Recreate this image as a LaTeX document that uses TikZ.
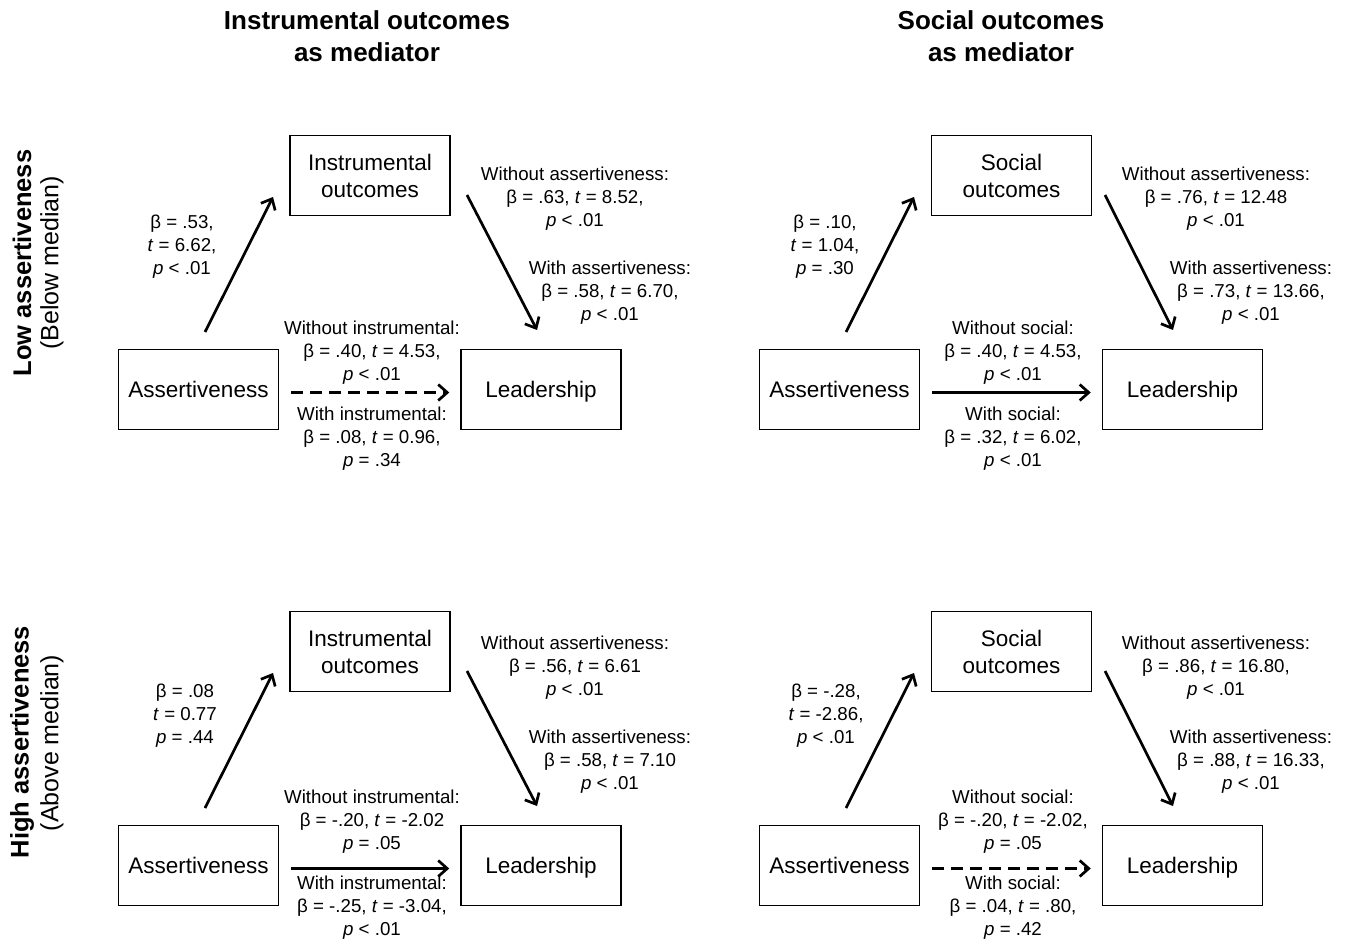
\documentclass[tikz,border=0pt]{standalone}
\usepackage{fontspec}
\setmainfont{Liberation Sans}
\usetikzlibrary{arrows.meta}
\begin{document}
\begin{tikzpicture}[x=1pt,y=-1pt,
  box/.style={draw, line width=1.5pt, minimum width=160pt, minimum height=80pt, inner sep=0pt, align=center, font=\fontsize{22.5}{27}\selectfont},
  single/.style={text height=16pt, text depth=0pt},
  lab/.style={align=center, inner sep=0pt, yshift=-2pt, font=\fontsize{18.7}{23}\selectfont},
  conn/.style={line width=2.7pt, -{Straight Barb[length=9pt,width=16pt]}},
  dashconn/.style={conn, dash pattern=on 12pt off 7pt},
  title/.style={align=center, inner sep=0pt, font=\fontsize{26}{32}\selectfont\bfseries},
  sidebold/.style={rotate=90, inner sep=0pt, font=\fontsize{25.5}{30}\selectfont\bfseries},
  sidereg/.style={rotate=90, inner sep=0pt, font=\fontsize{25}{30}\selectfont}
]
\useasboundingbox (0,0) rectangle (1345,941);

% titles
\node[title] (t1) at (367,36) {Instrumental outcomes\\as mediator};
\node[title] (t2) at (1001,36) {Social outcomes\\as mediator};

% side labels
\node[sidebold] (s1) at (22,263) {Low assertiveness};
\node[sidereg] (s2) at (52,263) {(Below median)};
\node[sidebold] (s3) at (22,742) {High assertiveness};
\node[sidereg] (s4) at (52,743) {(Above median)};

% ---------- top-left ----------
\node[box] (tlM) at (370,175.5) {Instrumental\\outcomes};
\node[box,single] (tlA) at (198.5,389.5) {Assertiveness};
\node[box,single] (tlL) at (541,389.5) {Leadership};
\coordinate (tlAMs) at (205,332); \coordinate (tlAMe) at (273,197);
\coordinate (tlMLs) at (467,195); \coordinate (tlMLe) at (537,330);
\draw[conn] (tlAMs) -- (tlAMe);
\draw[conn] (tlMLs) -- (tlMLe);
\draw[dashconn, shorten <=12pt, shorten >=11pt] ([yshift=-3pt]tlA.east) -- ([yshift=-3pt]tlL.west);
\node[lab] (tl1) at (182,245) {β = .53,\\\textit{t} = 6.62,\\\textit{p} < .01};
\node[lab] (tl2) at (575,197) {Without assertiveness:\\β = .63, \textit{t} = 8.52,\\\textit{p} < .01};
\node[lab] (tl3) at (610,291) {With assertiveness:\\β = .58, \textit{t} = 6.70,\\\textit{p} < .01};
\node[lab] (tl4) at (372,351) {Without instrumental:\\β = .40, \textit{t} = 4.53,\\\textit{p} < .01};
\node[lab] (tl5) at (372,437) {With instrumental:\\β = .08, \textit{t} = 0.96,\\\textit{p} = .34};

% ---------- top-right ----------
\node[box] (trM) at (1011.5,175.5) {Social\\outcomes};
\node[box,single] (trA) at (839.5,389.5) {Assertiveness};
\node[box,single] (trL) at (1182.5,389.5) {Leadership};
\coordinate (trAMs) at (846,332); \coordinate (trAMe) at (914,197);
\coordinate (trMLs) at (1105,195); \coordinate (trMLe) at (1173,330);
\draw[conn] (trAMs) -- (trAMe);
\draw[conn] (trMLs) -- (trMLe);
\draw[conn, shorten <=12pt, shorten >=11pt] ([yshift=-3pt]trA.east) -- ([yshift=-3pt]trL.west);
\node[lab] (tr1) at (825,245) {β = .10,\\\textit{t} = 1.04,\\\textit{p} = .30};
\node[lab] (tr2) at (1216,197) {Without assertiveness:\\β = .76, \textit{t} = 12.48\\\textit{p} < .01};
\node[lab] (tr3) at (1251,291) {With assertiveness:\\β = .73, \textit{t} = 13.66,\\\textit{p} < .01};
\node[lab] (tr4) at (1013,351) {Without social:\\β = .40, \textit{t} = 4.53,\\\textit{p} < .01};
\node[lab] (tr5) at (1013,437) {With social:\\β = .32, \textit{t} = 6.02,\\\textit{p} < .01};

% ---------- bottom-left ----------
\node[box] (blM) at (370,651.5) {Instrumental\\outcomes};
\node[box,single] (blA) at (198.5,865.5) {Assertiveness};
\node[box,single] (blL) at (541,865.5) {Leadership};
\coordinate (blAMs) at (205,808); \coordinate (blAMe) at (273,673);
\coordinate (blMLs) at (467,671); \coordinate (blMLe) at (537,806);
\draw[conn] (blAMs) -- (blAMe);
\draw[conn] (blMLs) -- (blMLe);
\draw[conn, shorten <=12pt, shorten >=11pt] ([yshift=-3pt]blA.east) -- ([yshift=-3pt]blL.west);
\node[lab] (bl1) at (185,714) {β = .08\\\textit{t} = 0.77\\\textit{p} = .44};
\node[lab] (bl2) at (575,666) {Without assertiveness:\\β = .56, \textit{t} = 6.61\\\textit{p} < .01};
\node[lab] (bl3) at (610,760) {With assertiveness:\\β = .58, \textit{t} = 7.10\\\textit{p} < .01};
\node[lab] (bl4) at (372,820) {Without instrumental:\\β = -.20, \textit{t} = -2.02\\\textit{p} = .05};
\node[lab] (bl5) at (372,906) {With instrumental:\\β = -.25, \textit{t} = -3.04,\\\textit{p} < .01};

% ---------- bottom-right ----------
\node[box] (brM) at (1011.5,651.5) {Social\\outcomes};
\node[box,single] (brA) at (839.5,865.5) {Assertiveness};
\node[box,single] (brL) at (1182.5,865.5) {Leadership};
\coordinate (brAMs) at (846,808); \coordinate (brAMe) at (914,673);
\coordinate (brMLs) at (1105,671); \coordinate (brMLe) at (1173,806);
\draw[conn] (brAMs) -- (brAMe);
\draw[conn] (brMLs) -- (brMLe);
\draw[dashconn, shorten <=12pt, shorten >=11pt] ([yshift=-3pt]brA.east) -- ([yshift=-3pt]brL.west);
\node[lab] (br1) at (826,714) {β = -.28,\\\textit{t} = -2.86,\\\textit{p} < .01};
\node[lab] (br2) at (1216,666) {Without assertiveness:\\β = .86, \textit{t} = 16.80,\\\textit{p} < .01};
\node[lab] (br3) at (1251,760) {With assertiveness:\\β = .88, \textit{t} = 16.33,\\\textit{p} < .01};
\node[lab] (br4) at (1013,820) {Without social:\\β = -.20, \textit{t} = -2.02,\\\textit{p} = .05};
\node[lab] (br5) at (1013,906) {With social:\\β = .04, \textit{t} = .80,\\\textit{p} = .42};
\end{tikzpicture}
\end{document}
